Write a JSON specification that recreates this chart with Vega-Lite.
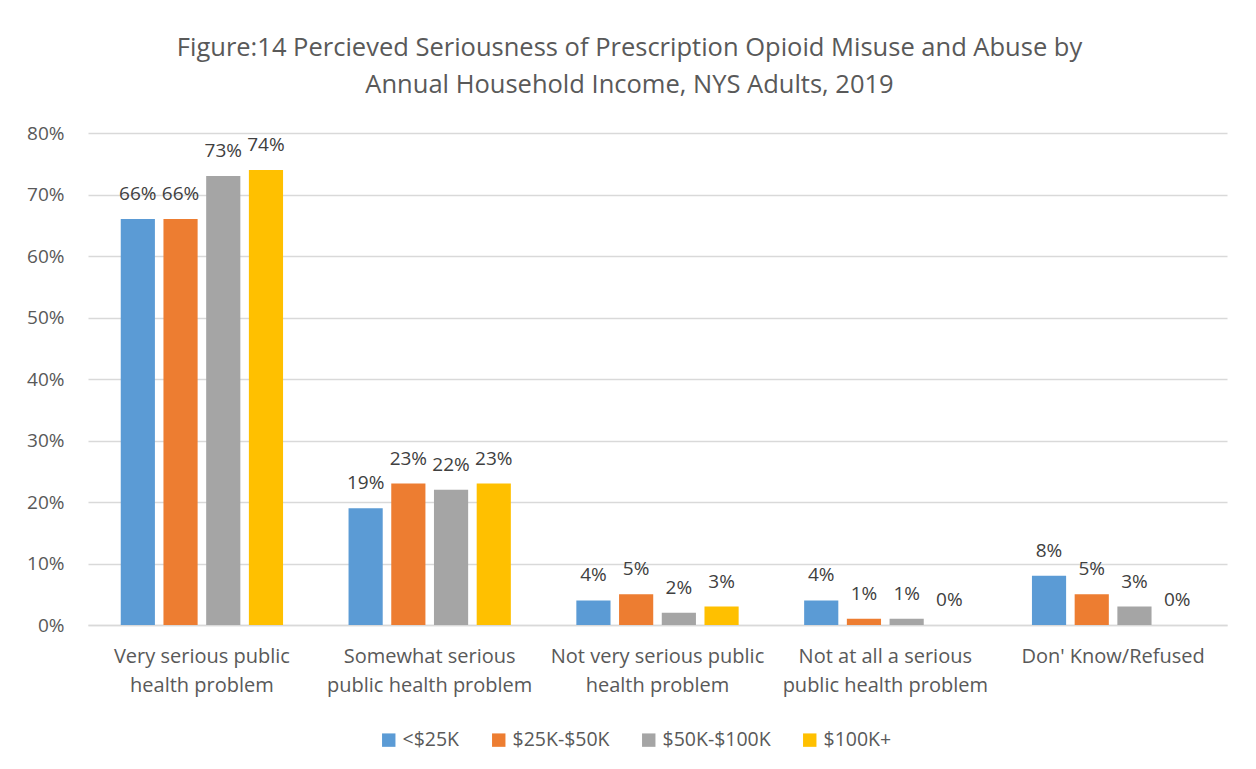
{
  "$schema": "https://vega.github.io/schema/vega-lite/v6.json",
  "width": 1139,
  "height": 492,
  "autosize": {"type": "none"},
  "padding": {"left": 88, "top": 133, "right": 29, "bottom": 144},
  "background": "white",
  "config": {"view": {"stroke": null}},
  "title": {
    "text": ["Figure:14 Percieved Seriousness of Prescription Opioid Misuse and Abuse by", "Annual Household Income, NYS Adults, 2019"],
    "font": "Open Sans",
    "fontSize": 25.5,
    "fontWeight": "normal",
    "color": "#595959",
    "lineHeight": 37,
    "anchor": "middle",
    "dx": -28,
    "offset": 26
  },
  "data": {
    "values": [
      {"cat": "Very serious public health problem", "income": "<$25K", "v": 0.66},
      {"cat": "Very serious public health problem", "income": "$25K-$50K", "v": 0.66},
      {"cat": "Very serious public health problem", "income": "$50K-$100K", "v": 0.73},
      {"cat": "Very serious public health problem", "income": "$100K+", "v": 0.74},
      {"cat": "Somewhat serious public health problem", "income": "<$25K", "v": 0.19},
      {"cat": "Somewhat serious public health problem", "income": "$25K-$50K", "v": 0.23},
      {"cat": "Somewhat serious public health problem", "income": "$50K-$100K", "v": 0.22},
      {"cat": "Somewhat serious public health problem", "income": "$100K+", "v": 0.23},
      {"cat": "Not very serious public health problem", "income": "<$25K", "v": 0.04},
      {"cat": "Not very serious public health problem", "income": "$25K-$50K", "v": 0.05},
      {"cat": "Not very serious public health problem", "income": "$50K-$100K", "v": 0.02},
      {"cat": "Not very serious public health problem", "income": "$100K+", "v": 0.03},
      {"cat": "Not at all a serious public health problem", "income": "<$25K", "v": 0.04},
      {"cat": "Not at all a serious public health problem", "income": "$25K-$50K", "v": 0.01},
      {"cat": "Not at all a serious public health problem", "income": "$50K-$100K", "v": 0.01},
      {"cat": "Not at all a serious public health problem", "income": "$100K+", "v": 0.0},
      {"cat": "Don' Know/Refused", "income": "<$25K", "v": 0.08},
      {"cat": "Don' Know/Refused", "income": "$25K-$50K", "v": 0.05},
      {"cat": "Don' Know/Refused", "income": "$50K-$100K", "v": 0.03},
      {"cat": "Don' Know/Refused", "income": "$100K+", "v": 0.0}
    ]
  },
  "encoding": {
    "x": {
      "field": "cat",
      "type": "nominal",
      "sort": null,
      "scale": {"paddingInner": 0.25, "paddingOuter": 0.125},
      "axis": {
        "title": null,
        "labelAngle": 0,
        "labelFont": "Open Sans",
        "labelFontSize": 20,
        "labelColor": "#595959",
        "labelLineHeight": 29,
        "labelPadding": 21,
        "labelBaseline": "top",
        "labelLimit": 0,
        "ticks": false,
        "domain": true,
        "domainColor": "#D9D9D9",
        "domainWidth": 1.5,
        "labelExpr": "datum.value == 'Very serious public health problem' ? ['Very serious public', 'health problem'] : datum.value == 'Somewhat serious public health problem' ? ['Somewhat serious', 'public health problem'] : datum.value == 'Not very serious public health problem' ? ['Not very serious public', 'health problem'] : datum.value == 'Not at all a serious public health problem' ? ['Not at all a serious', 'public health problem'] : datum.value"
      }
    },
    "xOffset": {
      "field": "income",
      "type": "nominal",
      "sort": ["<$25K", "$25K-$50K", "$50K-$100K", "$100K+"],
      "scale": {"paddingInner": 0.2, "paddingOuter": 0.1}
    },
    "y": {
      "field": "v",
      "type": "quantitative",
      "scale": {"domain": [0, 0.8]},
      "axis": {
        "title": null,
        "format": ".0%",
        "values": [0, 0.1, 0.2, 0.3, 0.4, 0.5, 0.6, 0.7, 0.8],
        "labelFont": "Open Sans",
        "labelFontSize": 19,
        "labelColor": "#595959",
        "labelPadding": 24,
        "ticks": false,
        "domain": false,
        "gridColor": "#D9D9D9",
        "gridWidth": 1.5
      }
    }
  },
  "layer": [
    {
      "mark": {"type": "bar"},
      "encoding": {
        "color": {
          "field": "income",
          "type": "nominal",
          "sort": ["<$25K", "$25K-$50K", "$50K-$100K", "$100K+"],
          "scale": {
            "domain": ["<$25K", "$25K-$50K", "$50K-$100K", "$100K+"],
            "range": ["#5B9BD5", "#ED7D31", "#A5A5A5", "#FFC000"]
          },
          "legend": {
            "title": null,
            "orient": "none",
            "legendX": 291,
            "legendY": 597,
            "direction": "horizontal",
            "symbolType": "square",
            "symbolSize": 180,
            "symbolStrokeWidth": 0,
            "labelFont": "Open Sans",
            "labelFontSize": 19.5,
            "labelColor": "#595959",
            "columnPadding": 29
          }
        }
      }
    },
    {
      "mark": {"type": "text", "baseline": "middle", "dy": -25, "font": "Open Sans", "fontSize": 19, "color": "#404040"},
      "encoding": {
        "text": {"field": "v", "type": "quantitative", "format": ".0%"}
      }
    }
  ]
}
